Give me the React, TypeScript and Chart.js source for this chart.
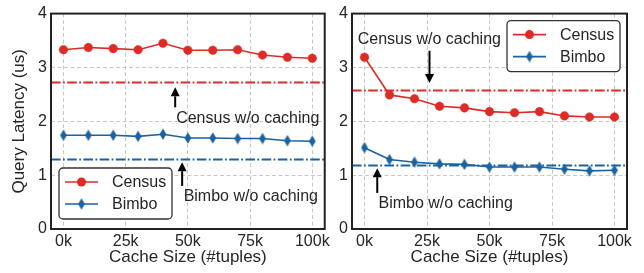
import React, { useEffect, useRef } from 'react';
import { Chart, registerables } from 'chart.js';

Chart.register(...registerables);

// ---------- data ----------
const cacheSizes = [0, 10000, 20000, 30000, 40000, 50000, 60000, 70000, 80000, 90000, 100000];
const xTickValues = [0, 25000, 50000, 75000, 100000];
const yTickValues = [0, 1, 2, 3, 4];
const seriesLabels = ['Census', 'Bimbo'];
const noCacheLabels = ['Census w/o caching', 'Bimbo w/o caching'];

const leftCensus = [3.33, 3.37, 3.35, 3.33, 3.45, 3.32, 3.32, 3.33, 3.23, 3.19, 3.17];
const leftBimbo = [1.74, 1.74, 1.74, 1.72, 1.76, 1.69, 1.69, 1.68, 1.68, 1.64, 1.63];
const leftNoCache = [2.72, 1.29];

const rightCensus = [3.19, 2.49, 2.42, 2.28, 2.25, 2.18, 2.16, 2.18, 2.1, 2.08, 2.08];
const rightBimbo = [1.51, 1.29, 1.24, 1.21, 1.2, 1.15, 1.15, 1.15, 1.11, 1.08, 1.09];
const rightNoCache = [2.57, 1.18];

// annotation anchors in data units: [textX, textY, arrowX, arrowFromY, arrowToY]
const leftAnnotations = [
  [45300, 2.05, 44900, 2.26, 2.63],
  [48300, 0.61, 47700, 0.8, 1.24],
];
const rightAnnotations = [
  [-2700, 3.51, 26000, 3.31, 2.71],
  [5600, 0.48, 5100, 0.67, 1.13],
];

// ---------- styles ----------
const FONT = "'Liberation Sans', Arial, Helvetica, sans-serif";
const RED = '#e02a26';
const BLUE = '#1a62a0';
const TEXT = '#262626';
const GRID = '#c8c8c8';
const X_MIN = -5000;
const X_MAX = 105000;

function makeThinDiamond(color: string) {
  const c = document.createElement('canvas');
  c.width = 8;
  c.height = 12;
  const g = c.getContext('2d')!;
  g.fillStyle = color;
  g.beginPath();
  g.moveTo(4, 0.3);
  g.lineTo(7.4, 6);
  g.lineTo(4, 11.7);
  g.lineTo(0.6, 6);
  g.closePath();
  g.fill();
  return c;
}

type Panel = {
  census: number[];
  bimbo: number[];
  noCache: number[];
  annotations: number[][];
  legend: 'bottom-left' | 'top-right';
  showYTitle: boolean;
  yWidth: number;
  padRight: number;
};

function drawArrow(ctx: CanvasRenderingContext2D, x: number, y0: number, y1: number) {
  const dir = y1 < y0 ? -1 : 1;
  const head = 9;
  ctx.save();
  ctx.strokeStyle = '#000';
  ctx.fillStyle = '#000';
  ctx.lineWidth = 2;
  ctx.beginPath();
  ctx.moveTo(x, y0);
  ctx.lineTo(x, y1 - dir * head);
  ctx.stroke();
  ctx.beginPath();
  ctx.moveTo(x, y1);
  ctx.lineTo(x - 4.5, y1 - dir * head);
  ctx.lineTo(x + 4.5, y1 - dir * head);
  ctx.closePath();
  ctx.fill();
  ctx.restore();
}

function makeDecor(panel: Panel, diamond: HTMLCanvasElement) {
  return {
    id: 'decor',
    afterDraw(chart: any) {
      const ctx: CanvasRenderingContext2D = chart.ctx;
      const { left, right, top, bottom } = chart.chartArea;
      const xs = chart.scales.x;
      const ys = chart.scales.y;
      // frame
      ctx.save();
      ctx.strokeStyle = '#222';
      ctx.lineWidth = 2;
      ctx.strokeRect(left, top, right - left, bottom - top);
      ctx.restore();
      // annotations
      panel.annotations.forEach((a, i) => {
        ctx.save();
        ctx.font = `16px ${FONT}`;
        ctx.fillStyle = TEXT;
        ctx.textAlign = 'left';
        ctx.textBaseline = 'middle';
        ctx.fillText(noCacheLabels[i], xs.getPixelForValue(a[0]), ys.getPixelForValue(a[1]));
        ctx.restore();
        drawArrow(ctx, xs.getPixelForValue(a[2]), ys.getPixelForValue(a[3]), ys.getPixelForValue(a[4]));
      });
      // legend
      const w = 113;
      const h = 51;
      let bx: number, by: number;
      if (panel.legend === 'bottom-left') {
        bx = left + 8;
        by = bottom - 10 - h;
      } else {
        bx = right - 7 - w;
        by = top + 7;
      }
      ctx.save();
      ctx.fillStyle = 'rgba(255,255,255,0.9)';
      ctx.strokeStyle = '#333';
      ctx.lineWidth = 1.3;
      ctx.beginPath();
      (ctx as any).roundRect(bx, by, w, h, 4);
      ctx.fill();
      ctx.stroke();
      const colors = [RED, BLUE];
      seriesLabels.forEach((lab, i) => {
        const cy = by + 14 + i * 22;
        ctx.strokeStyle = colors[i];
        ctx.lineWidth = 1.6;
        ctx.beginPath();
        ctx.moveTo(bx + 6, cy);
        ctx.lineTo(bx + 39, cy);
        ctx.stroke();
        if (i === 0) {
          ctx.fillStyle = RED;
          ctx.beginPath();
          ctx.arc(bx + 22.5, cy, 4.5, 0, Math.PI * 2);
          ctx.fill();
        } else {
          ctx.drawImage(diamond, bx + 22.5 - diamond.width / 2, cy - diamond.height / 2);
        }
        ctx.fillStyle = TEXT;
        ctx.font = `16px ${FONT}`;
        ctx.textAlign = 'left';
        ctx.textBaseline = 'middle';
        ctx.fillText(lab, bx + 53, cy + 0.5);
      });
      ctx.restore();
    },
  };
}

function buildConfig(panel: Panel, diamond: HTMLCanvasElement): any {
  const flat = (v: number) => [
    { x: X_MIN, y: v },
    { x: X_MAX, y: v },
  ];
  const dashDot = [9.6, 2.4, 1.8, 2.4];
  return {
    type: 'line',
    data: {
      datasets: [
        {
          label: noCacheLabels[0],
          data: flat(panel.noCache[0]),
          borderColor: RED,
          borderWidth: 2,
          borderDash: dashDot,
          pointRadius: 0,
        },
        {
          label: noCacheLabels[1],
          data: flat(panel.noCache[1]),
          borderColor: BLUE,
          borderWidth: 2,
          borderDash: dashDot,
          pointRadius: 0,
        },
        {
          label: seriesLabels[0],
          data: cacheSizes.map((x, i) => ({ x, y: panel.census[i] })),
          borderColor: RED,
          backgroundColor: RED,
          borderWidth: 1.6,
          pointStyle: 'circle',
          pointRadius: 4.3,
          pointBorderWidth: 0.5,
        },
        {
          label: seriesLabels[1],
          data: cacheSizes.map((x, i) => ({ x, y: panel.bimbo[i] })),
          borderColor: BLUE,
          backgroundColor: BLUE,
          borderWidth: 1.6,
          pointStyle: diamond,
        },
      ],
    },
    options: {
      animation: false,
      responsive: false,
      layout: { padding: { left: 0, top: 13, right: panel.padRight, bottom: 0 } },
      plugins: { legend: { display: false }, tooltip: { enabled: false } },
      scales: {
        x: {
          type: 'linear',
          min: X_MIN,
          max: X_MAX,
          afterBuildTicks: (s: any) => {
            s.ticks = xTickValues.map((v) => ({ value: v }));
          },
          afterFit: (s: any) => {
            s.height = 44;
          },
          ticks: {
            font: { family: FONT, size: 16 },
            color: TEXT,
            padding: 3,
            maxRotation: 0,
            autoSkip: false,
            callback: (v: number) => `${v / 1000}k`,
          },
          grid: { color: GRID, lineWidth: 1, drawTicks: false },
          border: { display: false, dash: [4, 2.5] },
          title: {
            display: true,
            text: 'Cache Size (#tuples)',
            font: { family: FONT, size: 17 },
            color: TEXT,
            padding: { top: 0, bottom: 5 },
          },
        },
        y: {
          type: 'linear',
          min: 0,
          max: 4,
          afterBuildTicks: (s: any) => {
            s.ticks = yTickValues.map((v) => ({ value: v }));
          },
          afterFit: (s: any) => {
            s.width = panel.yWidth;
          },
          ticks: {
            font: { family: FONT, size: 16 },
            color: TEXT,
            padding: 4,
          },
          grid: { color: GRID, lineWidth: 1, drawTicks: false },
          border: { display: false, dash: [4, 2.5] },
          title: {
            display: panel.showYTitle,
            text: 'Query Latency (us)',
            font: { family: FONT, size: 17 },
            color: TEXT,
            padding: { top: 9, bottom: 0 },
          },
        },
      },
    },
    plugins: [makeDecor(panel, diamond)],
  };
}

const leftPanel: Panel = {
  census: leftCensus,
  bimbo: leftBimbo,
  noCache: leftNoCache,
  annotations: leftAnnotations,
  legend: 'bottom-left',
  showYTitle: true,
  yWidth: 51,
  padRight: 8,
};

const rightPanel: Panel = {
  census: rightCensus,
  bimbo: rightBimbo,
  noCache: rightNoCache,
  annotations: rightAnnotations,
  legend: 'top-right',
  showYTitle: false,
  yWidth: 19,
  padRight: 17,
};

export default function App() {
  const leftRef = useRef<HTMLCanvasElement>(null);
  const rightRef = useRef<HTMLCanvasElement>(null);

  useEffect(() => {
    document.body.style.margin = '0';
    const diamond = makeThinDiamond(BLUE);
    const c1 = new Chart(leftRef.current!, buildConfig(leftPanel, diamond));
    const c2 = new Chart(rightRef.current!, buildConfig(rightPanel, diamond));
    return () => {
      c1.destroy();
      c2.destroy();
    };
  }, []);

  return (
    <div style={{ position: 'absolute', left: 0, top: 0, width: 644, height: 273, background: '#fff' }}>
      <canvas ref={leftRef} width={333} height={273} style={{ position: 'absolute', left: 0, top: 0 }} />
      <canvas ref={rightRef} width={311} height={273} style={{ position: 'absolute', left: 333, top: 0 }} />
    </div>
  );
}
